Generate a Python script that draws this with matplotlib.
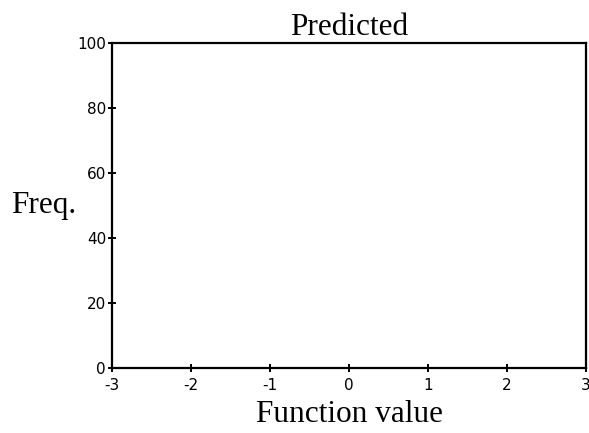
import matplotlib
matplotlib.use("Agg")
import matplotlib.pyplot as plt

# axis ranges and ticks for the (empty) histogram frame
x_ticks = [-3, -2, -1, 0, 1, 2, 3]
y_ticks = [0, 20, 40, 60, 80, 100]
title = "Predicted"
x_label = "Function value"
y_label = "Freq."

fig = plt.figure(figsize=(5.89, 4.33), dpi=100)
ax = fig.add_axes([112.3 / 589, 1 - 368 / 433, (585.7 - 112.3) / 589, (368 - 43.3) / 433])

ax.set_xlim(x_ticks[0], x_ticks[-1])
ax.set_ylim(y_ticks[0], y_ticks[-1])
ax.set_xticks(x_ticks)
ax.set_yticks(y_ticks)
ax.set_xticklabels([str(t) for t in x_ticks])
ax.set_yticklabels([str(t) for t in y_ticks])

for s in ax.spines.values():
    s.set_linewidth(1.6)

ax.tick_params(direction="inout", length=6, width=1.4, labelsize=11, pad=1.5)
ax.tick_params(axis="x", pad=4)

serif = {"family": "Liberation Serif", "size": 22.5}
ax.set_title(title, fontdict=serif, pad=6)
ax.set_xlabel(x_label, fontdict=serif, labelpad=5)
ax.set_ylabel(y_label, fontdict=serif, rotation=0, ha="right", va="center")
ax.yaxis.set_label_coords(-36.3 / 473.4, 0.5)

fig.savefig("out.png", dpi=100)
